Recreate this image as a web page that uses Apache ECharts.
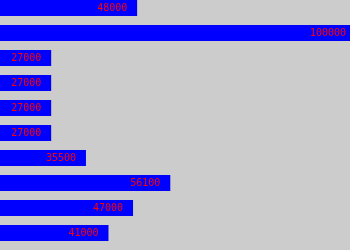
<!DOCTYPE html>
<html><head><meta charset="utf-8">
<script src="https://cdn.jsdelivr.net/npm/echarts@6/dist/echarts.min.js"></script>
<style>html,body{margin:0;padding:0;background:#cccccc}#c{width:350px;height:250px}</style>
</head><body><div id="c"></div>
<script>
var categories = ['r1','r2','r3','r4','r5','r6','r7','r8','r9','r10'];
var values = [48000, 100000, 27000, 27000, 27000, 27000, 35500, 56100, 47000, 41000];
var axisMin = 14500;
var axisMax = 100000;

var chart = echarts.init(document.getElementById('c'), null, {renderer: 'canvas'});
chart.setOption({
  animation: false,
  backgroundColor: '#cccccc',
  grid: {left: 0, right: 0, top: 8, bottom: 17, containLabel: false},
  xAxis: {type: 'value', min: axisMin, max: axisMax, show: false, splitLine: {show: false}},
  yAxis: {type: 'category', data: categories, inverse: true, show: false, boundaryGap: false},
  series: [{
    type: 'bar',
    data: values,
    barWidth: 16,
    itemStyle: {color: '#0000ff'},
    label: {
      show: true,
      position: ['100%', '50%'],
      offset: [-40, 0],
      align: 'left',
      verticalAlign: 'middle',
      color: '#ff0000',
      fontFamily: 'DejaVu Sans Mono',
      fontSize: 10
    }
  }]
});
</script></body></html>
